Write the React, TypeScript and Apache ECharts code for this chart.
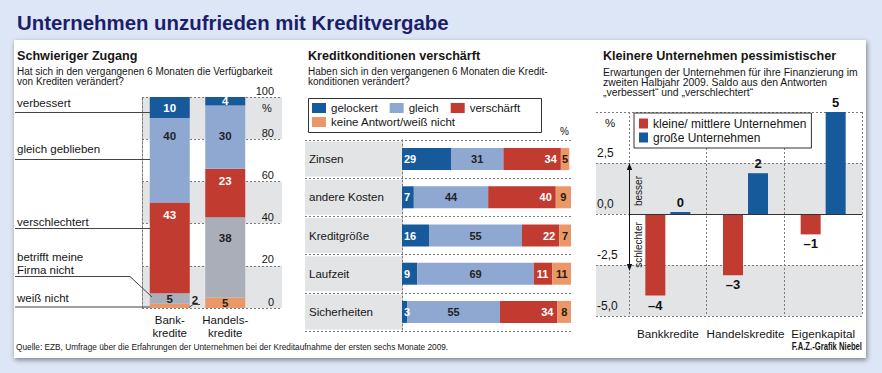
import React, { useEffect, useRef } from 'react';
import * as echarts from 'echarts';

const F = '"Liberation Sans", Arial, Helvetica, sans-serif';

// ---- Left panel: Schwieriger Zugang ----
const accessCategories = ['Bank-\nkredite', 'Handels-\nkredite'];
const accessWeissNicht = [2, 5];
const accessBetrifftNicht = [5, 38];
const accessVerschlechtert = [43, 23];
const accessGleich = [40, 30];
const accessVerbessert = [10, 4];

// ---- Middle panel: Kreditkonditionen verschärft ----
const conditionCategories = ['Zinsen', 'andere Kosten', 'Kreditgröße', 'Laufzeit', 'Sicherheiten'];
const condGelockert = [29, 7, 16, 9, 3];
const condGleich = [31, 44, 55, 69, 55];
const condVerschaerft = [34, 40, 22, 11, 34];
const condKeineAntwort = [5, 9, 7, 11, 8];

// ---- Right panel: Kleinere Unternehmen pessimistischer ----
const expectCategories = ['Bankkredite', 'Handelskredite', 'Eigenkapital'];
const expectKlein = [-4, -3, -1];
const expectGross = [0, 2, 5];

const DARK_BLUE = '#175a9b';
const LIGHT_BLUE = '#8ea8d2';
const RED = '#c23b30';
const ORANGE = '#eb9868';
const GRAY_BAR = '#a9aeb9';
const BAND = '#e3e4e6';
const TXT = '#161616';
const DOT = '#7a7a7a';

const dotted = { color: DOT, type: [2, 2] as any, width: 1 };

function txt(x: number, y: number, text: string, size: number, opts: any = {}) {
  return {
    type: 'text',
    x,
    y,
    z: 20,
    scaleX: opts.scaleX ?? 1,
    rotation: opts.rotation ?? 0,
    style: {
      text,
      x: 0,
      y: 0,
      fill: opts.color ?? TXT,
      fontSize: size,
      fontFamily: F,
      fontWeight: opts.bold ? 'bold' : 'normal',
      align: opts.align ?? 'left',
      verticalAlign: 'middle',
    },
  };
}

function line(x1: number, y1: number, x2: number, y2: number, color = '#444') {
  return {
    type: 'line',
    z: 20,
    shape: { x1, y1, x2, y2 },
    style: { stroke: color, lineWidth: 1 },
  };
}

export default function App() {
  const ref = useRef<HTMLDivElement>(null);

  useEffect(() => {
    document.body.style.margin = '0';
    const chart = echarts.init(ref.current!, null, { renderer: 'svg' });

    const barLabel = (color: string, position: string, extra: any = {}) => ({
      show: true,
      position,
      color,
      fontFamily: F,
      fontWeight: 'bold',
      fontSize: 11,
      ...extra,
    });

    const option: any = {
      animation: false,
      backgroundColor: '#dde6f6',
      grid: [
        { left: 142, top: 97, width: 140, height: 211 },
        { left: 142, top: 97, width: 111, height: 211 },
        { left: 305, top: 140, width: 266, height: 191 },
        { left: 402, top: 140, width: 169, height: 191 },
        { left: 596, top: 112, width: 266, height: 204 },
        { left: 629, top: 112, width: 233, height: 204 },
      ],
      xAxis: [
        { gridIndex: 0, type: 'value', min: 0, max: 1, show: false },
        {
          gridIndex: 1,
          type: 'category',
          data: accessCategories,
          axisLine: { show: false },
          axisTick: { show: false },
          axisLabel: { interval: 0, margin: 6, fontSize: 11.5, lineHeight: 12.5, color: TXT, fontFamily: F },
        },
        { gridIndex: 2, type: 'value', min: 0, max: 1, show: false },
        { gridIndex: 3, type: 'value', min: 0, max: 100, show: false },
        { gridIndex: 4, type: 'value', min: 0, max: 1, show: false },
        {
          gridIndex: 5,
          type: 'category',
          data: expectCategories,
          axisLine: { show: false },
          axisTick: { show: false },
          splitLine: { show: true, interval: 0, lineStyle: dotted },
          axisLabel: { margin: 10, fontSize: 11.7, lineHeight: 14, color: TXT, fontFamily: F, interval: 0 },
        },
      ],
      yAxis: [
        {
          gridIndex: 0,
          type: 'value',
          position: 'right',
          min: 0,
          max: 100,
          interval: 20,
          axisLine: { show: true, lineStyle: dotted },
          axisTick: { show: false },
          axisLabel: {
            inside: true,
            margin: 8,
            verticalAlign: 'bottom',
            padding: [0, 0, 1, 0],
            fontSize: 11,
            color: TXT,
            fontFamily: F,
          },
          splitLine: { show: true, lineStyle: dotted },
          splitArea: { show: true, areaStyle: { color: [BAND, 'rgba(255,255,255,0)'] } },
        },
        {
          gridIndex: 0,
          type: 'value',
          position: 'left',
          min: 0,
          max: 100,
          interval: 20,
          axisLine: { show: true, lineStyle: dotted },
          axisTick: { show: false },
          axisLabel: { show: false },
          splitLine: { show: false },
        },
        { gridIndex: 1, type: 'value', min: 0, max: 100, show: false },
        {
          gridIndex: 2,
          type: 'category',
          data: conditionCategories,
          inverse: true,
          axisLine: { show: false },
          axisTick: { show: false },
          axisLabel: { show: false },
          splitLine: { show: true, interval: 0, lineStyle: dotted },
        },
        {
          gridIndex: 3,
          type: 'category',
          data: conditionCategories,
          inverse: true,
          axisLine: { show: true, lineStyle: dotted },
          axisTick: { show: false },
          axisLabel: {
            interval: 0,
            margin: 97,
            align: 'left',
            width: 93,
            height: 35,
            lineHeight: 35,
            padding: [0, 0, 0, 4],
            backgroundColor: BAND,
            fontSize: 11.5,
            color: TXT,
            fontFamily: F,
          },
        },
        {
          gridIndex: 4,
          type: 'value',
          position: 'left',
          min: -5,
          max: 5,
          interval: 2.5,
          axisLine: { show: false },
          axisTick: { show: false },
          axisLabel: {
            inside: true,
            margin: 1,
            verticalAlign: 'bottom',
            padding: [0, 0, 4, 0],
            fontSize: 12,
            color: TXT,
            fontFamily: F,
            formatter: (v: number) => (v === 5 ? '' : v.toFixed(1).replace('.', ',')),
          },
          splitLine: { show: true, lineStyle: dotted },
          splitArea: { show: true, areaStyle: { color: [BAND, 'rgba(255,255,255,0)'] } },
        },
        { gridIndex: 5, type: 'value', min: -5, max: 5, show: false },
      ],
      legend: [
        {
          data: ['gelockert', 'gleich', 'verschärft'],
          left: 312,
          top: 101,
          padding: 0,
          itemWidth: 14,
          itemHeight: 10,
          itemGap: 12,
          icon: 'rect',
          selectedMode: false,
          textStyle: { fontSize: 11.5, lineHeight: 14, color: TXT, fontFamily: F },
        },
        {
          data: ['keine Antwort/weiß nicht'],
          left: 312,
          top: 115,
          padding: 0,
          itemWidth: 14,
          itemHeight: 10,
          icon: 'rect',
          selectedMode: false,
          textStyle: { fontSize: 11.5, lineHeight: 14, color: TXT, fontFamily: F },
        },
        {
          data: ['kleine/ mittlere Unternehmen', 'große Unternehmen'],
          orient: 'vertical',
          left: 634,
          top: 113,
          padding: [4, 5, 4, 5],
          itemWidth: 9,
          itemHeight: 10,
          itemGap: 1,
          icon: 'rect',
          borderColor: '#333',
          borderWidth: 1,
          backgroundColor: '#fff',
          selectedMode: false,
          textStyle: { fontSize: 12, lineHeight: 13, color: TXT, fontFamily: F },
        },
      ],
      series: [
        // Left
        {
          name: 'weiß nicht',
          type: 'bar',
          xAxisIndex: 1,
          yAxisIndex: 2,
          stack: 'access',
          barWidth: 40,
          itemStyle: { color: ORANGE },
          label: barLabel('#222', 'inside', { fontSize: 11.5 }),
          data: accessWeissNicht.map((v, i) =>
            i === 0 ? { value: v, label: { position: 'right', offset: [-3, -6] } } : v
          ),
        },
        {
          name: 'betrifft meine Firma nicht',
          type: 'bar',
          xAxisIndex: 1,
          yAxisIndex: 2,
          stack: 'access',
          itemStyle: { color: GRAY_BAR },
          label: barLabel('#222', 'inside', { fontSize: 11.5 }),
          data: accessBetrifftNicht.map((v, i) =>
            i === 1 ? { value: v, label: { position: 'insideTop', distance: 15 } } : v
          ),
        },
        {
          name: 'verschlechtert',
          type: 'bar',
          xAxisIndex: 1,
          yAxisIndex: 2,
          stack: 'access',
          itemStyle: { color: RED },
          label: barLabel('#fff', 'insideTop', { fontSize: 11.5, distance: 6 }),
          data: accessVerschlechtert,
        },
        {
          name: 'gleich geblieben',
          type: 'bar',
          xAxisIndex: 1,
          yAxisIndex: 2,
          stack: 'access',
          itemStyle: { color: LIGHT_BLUE },
          label: barLabel('#222', 'insideTop', { fontSize: 11.5, distance: 12 }),
          data: accessGleich.map((v, i) =>
            i === 1 ? { value: v, label: { distance: 25 } } : v
          ),
        },
        {
          name: 'verbessert',
          type: 'bar',
          xAxisIndex: 1,
          yAxisIndex: 2,
          stack: 'access',
          itemStyle: { color: DARK_BLUE },
          label: barLabel('#fff', 'inside', { fontSize: 11.5 }),
          data: accessVerbessert,
        },
        // Middle
        {
          name: 'gelockert',
          type: 'bar',
          xAxisIndex: 3,
          yAxisIndex: 4,
          stack: 'cond',
          barWidth: 22,
          itemStyle: { color: DARK_BLUE },
          label: barLabel('#fff', 'insideLeft', { distance: 2 }),
          data: condGelockert,
        },
        {
          name: 'gleich',
          type: 'bar',
          xAxisIndex: 3,
          yAxisIndex: 4,
          stack: 'cond',
          itemStyle: { color: LIGHT_BLUE },
          label: barLabel('#222', 'inside'),
          data: condGleich,
        },
        {
          name: 'verschärft',
          type: 'bar',
          xAxisIndex: 3,
          yAxisIndex: 4,
          stack: 'cond',
          itemStyle: { color: RED },
          label: barLabel('#fff', 'insideRight', { distance: 4 }),
          data: condVerschaerft,
        },
        {
          name: 'keine Antwort/weiß nicht',
          type: 'bar',
          xAxisIndex: 3,
          yAxisIndex: 4,
          stack: 'cond',
          itemStyle: { color: ORANGE },
          label: barLabel('#2a1a10', 'inside'),
          data: condKeineAntwort,
        },
        // Right
        {
          name: 'kleine/ mittlere Unternehmen',
          type: 'bar',
          xAxisIndex: 5,
          yAxisIndex: 6,
          barWidth: 20,
          barGap: '25%',
          itemStyle: { color: RED },
          label: barLabel('#111', 'bottom', {
            fontSize: 13,
            distance: 3,
            formatter: (p: any) => (p.value < 0 ? '\u2013' + Math.abs(p.value) : String(p.value)),
          }),
          data: expectKlein,
          markLine: {
            silent: true,
            symbol: ['none', 'none'],
            label: { show: false },
            lineStyle: { color: '#333', type: 'solid', width: 1.2 },
            data: [{ yAxis: 0 }],
          },
        },
        {
          name: 'große Unternehmen',
          type: 'bar',
          xAxisIndex: 5,
          yAxisIndex: 6,
          barWidth: 20,
          barMinHeight: 2,
          itemStyle: { color: DARK_BLUE },
          label: barLabel('#111', 'top', { fontSize: 13, distance: 3 }),
          data: expectGross,
        },
      ],
      graphic: [
        {
          type: 'rect',
          z: -10,
          shape: { x: 14, y: 40, width: 852, height: 318 },
          style: {
            fill: '#ffffff',
            shadowBlur: 5,
            shadowOffsetY: 2,
            shadowOffsetX: 1,
            shadowColor: 'rgba(0,0,0,0.45)',
          },
        },
        txt(17, 22.5, 'Unternehmen unzufrieden mit Kreditvergabe', 20.4, { bold: true, color: '#1c1e6c' }),
        // Left panel texts
        txt(17, 55.5, 'Schwieriger Zugang', 12.6, { bold: true }),
        txt(17, 71, 'Hat sich in den vergangenen 6 Monaten die Verfügbarkeit', 10),
        txt(17, 81, 'von Krediten verändert?', 10),
        txt(262, 107.5, '%', 11),
        txt(17, 103, 'verbessert', 11.5),
        line(15, 112.5, 150, 112.5),
        txt(17, 149, 'gleich geblieben', 11.5),
        line(15, 159.5, 150, 159.5),
        txt(17, 222, 'verschlechtert', 11.5),
        line(15, 228.5, 150, 228.5),
        txt(17, 257, 'betrifft meine', 11.5),
        txt(17, 269.5, 'Firma nicht', 11.5),
        line(15, 276.5, 130, 276.5),
        line(130, 276.5, 152, 297),
        txt(17, 298, 'weiß nicht', 11.5),
        line(15, 307, 150, 307),
        line(189, 307.5, 193, 304.5),
        line(193, 304.5, 200, 304.5),
        // Middle panel texts
        txt(308, 55.5, 'Kreditkonditionen verschärft', 12.6, { bold: true }),
        txt(308, 71, 'Haben sich in den vergangenen 6 Monaten die Kredit-', 10),
        txt(308, 81, 'konditionen verändert?', 10),
        {
          type: 'rect',
          z: 5,
          shape: { x: 308.5, y: 98.5, width: 233, height: 34 },
          style: { fill: 'none', stroke: '#333', lineWidth: 1 },
        },
        txt(560, 131.5, '%', 10),
        // Right panel texts
        txt(603, 55.5, 'Kleinere Unternehmen pessimistischer', 12.6, { bold: true }),
        txt(603, 72.5, 'Erwartungen der Unternehmen für ihre Finanzierung im', 10.4),
        txt(603, 82.5, 'zweiten Halbjahr 2009. Saldo aus den Antworten', 10.4),
        txt(603, 92.5, '\u201Everbessert\u201C und \u201Everschlechtert\u201C', 10.4),
        txt(605, 122.5, '%', 11.5),
        line(629.5, 168, 629.5, 266, '#111'),
        {
          type: 'polygon',
          z: 20,
          shape: { points: [[626.8, 170], [629.5, 163], [632.2, 170]] },
          style: { fill: '#111' },
        },
        {
          type: 'polygon',
          z: 20,
          shape: { points: [[626.8, 264], [629.5, 271], [632.2, 264]] },
          style: { fill: '#111' },
        },
        txt(638.5, 191, 'besser', 10, { rotation: Math.PI / 2, align: 'center' }),
        txt(638.5, 245, 'schlechter', 10, { rotation: Math.PI / 2, align: 'center' }),
        // Footer
        txt(16, 347, 'Quelle: EZB, Umfrage über die Erfahrungen der Unternehmen bei der Kreditaufnahme der ersten sechs Monate 2009.', 9.3, { scaleX: 0.89 }),
        txt(862, 347, 'F.A.Z.-Grafik Niebel', 10.5, { bold: true, align: 'right', scaleX: 0.73 }),
      ],
    };

    chart.setOption(option);
    return () => chart.dispose();
  }, []);

  return <div ref={ref} style={{ width: 882, height: 373 }} />;
}
